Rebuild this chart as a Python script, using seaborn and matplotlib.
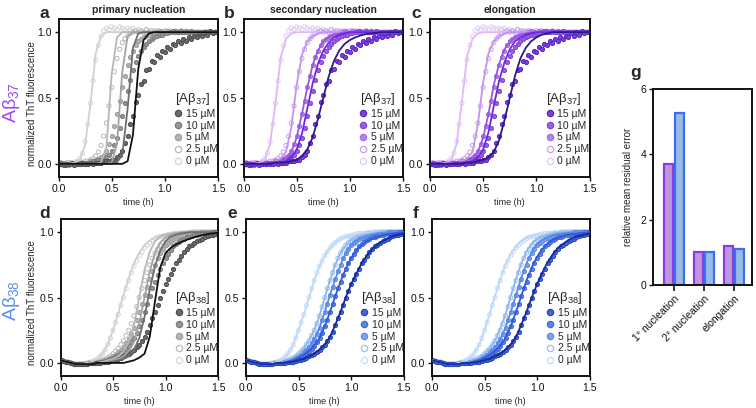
import numpy as np
import pandas as pd
import matplotlib
matplotlib.use("Agg")
import matplotlib.pyplot as plt
import seaborn as sns
from matplotlib.lines import Line2D

# ---------------- data ----------------
T_DATA = np.round(np.arange(61) * 0.025, 3)   # measured time points (h)
T_FIT = np.round(np.arange(31) * 0.05, 3)     # fit evaluation times (h)

CONC_LABELS = ["15 µM", "10 µM", "5 µM", "2.5 µM", "0 µM"]

# Abeta42 aggregation with Abeta37 (normalized ThT)
ab37_15 = [0.00, 0.00, -0.01, 0.00, 0.00, 0.01, -0.01, 0.00, 0.00, 0.01,
           0.00, 0.00, 0.01, 0.00, 0.01, 0.01, 0.01, 0.02, 0.02, 0.02,
           0.03, 0.03, 0.05, 0.07, 0.10, 0.16, 0.21, 0.30, 0.36, 0.47,
           0.52, 0.61, 0.63, 0.71, 0.72, 0.78, 0.77, 0.83, 0.81, 0.86,
           0.85, 0.89, 0.87, 0.91, 0.90, 0.93, 0.92, 0.95, 0.93, 0.96,
           0.95, 0.97, 0.96, 0.99, 0.97, 1.00, 0.98, 1.01, 0.99, 1.00,
           1.00]
ab37_10 = [0.00, 0.01, 0.00, -0.01, 0.00, 0.01, 0.00, 0.00, 0.01, 0.00,
           0.01, 0.01, 0.01, 0.02, 0.02, 0.03, 0.03, 0.04, 0.05, 0.07,
           0.10, 0.14, 0.20, 0.27, 0.36, 0.46, 0.55, 0.64, 0.71, 0.77,
           0.82, 0.86, 0.89, 0.91, 0.93, 0.95, 0.96, 0.97, 0.98, 0.98,
           0.99, 0.99, 1.00, 1.01, 1.00, 1.00, 1.01, 1.00, 1.00, 1.00,
           1.01, 1.00, 1.00, 1.00, 1.00, 1.00, 1.00, 1.00, 1.00, 1.00,
           1.00]
ab37_5 = [0.00, 0.00, 0.01, 0.00, -0.01, 0.00, 0.01, 0.00, 0.00, 0.01,
          0.01, 0.01, 0.02, 0.02, 0.03, 0.04, 0.05, 0.07, 0.10, 0.15,
          0.21, 0.29, 0.38, 0.48, 0.58, 0.67, 0.75, 0.81, 0.86, 0.90,
          0.93, 0.95, 0.96, 0.97, 0.98, 0.99, 0.99, 1.00, 1.01, 1.00,
          0.99, 1.01, 1.00, 1.00, 1.01, 1.00, 1.00, 1.00, 1.01, 1.00,
          1.00, 1.00, 1.00, 1.00, 1.00, 1.00, 1.00, 1.00, 1.00, 1.00,
          1.00]
ab37_25 = [0.00, 0.01, -0.01, 0.00, 0.01, 0.00, 0.00, 0.01, 0.00, 0.01,
           0.02, 0.02, 0.03, 0.04, 0.06, 0.09, 0.14, 0.21, 0.31, 0.44,
           0.58, 0.70, 0.80, 0.87, 0.92, 0.95, 0.97, 0.99, 1.00, 1.01,
           1.00, 1.01, 1.00, 1.02, 1.00, 1.01, 1.00, 1.01, 1.00, 1.00,
           1.01, 1.00, 1.01, 1.00, 1.00, 1.00, 1.01, 1.00, 1.00, 1.00,
           1.00, 1.00, 1.00, 1.00, 1.00, 1.00, 1.00, 1.00, 1.00, 1.00,
           1.00]
ab37_0 = [0.00, -0.01, 0.00, 0.01, 0.00, 0.01, 0.00, 0.02, 0.04, 0.08,
          0.17, 0.30, 0.46, 0.63, 0.79, 0.90, 0.97, 1.01, 1.03, 1.02,
          1.04, 1.03, 1.02, 1.04, 1.03, 1.02, 1.03, 1.02, 1.03, 1.01,
          1.02, 1.01, 1.00, 1.02, 1.01, 1.00, 1.01, 1.00, 1.01, 1.00,
          1.00, 1.01, 1.00, 1.00, 1.01, 1.00, 1.00, 1.00, 1.01, 1.00,
          1.00, 1.00, 1.00, 1.00, 1.00, 1.00, 1.00, 1.00, 1.00, 1.00,
          1.00]

# Abeta42 aggregation with Abeta38 (normalized ThT)
ab38_15 = [0.02, 0.015, 0.01, 0.005, 0.0, -0.005, -0.01, -0.01, -0.01, -0.01,
           -0.005, 0.0, 0.0, 0.0, 0.0, 0.0, 0.005, 0.005, 0.01, 0.015,
           0.02, 0.025, 0.03, 0.04, 0.05, 0.06, 0.07, 0.08, 0.10, 0.12,
           0.14, 0.17, 0.20, 0.24, 0.29, 0.34, 0.39, 0.44, 0.50, 0.55,
           0.60, 0.64, 0.68, 0.72, 0.76, 0.79, 0.82, 0.85, 0.87, 0.89,
           0.90, 0.92, 0.93, 0.94, 0.95, 0.96, 0.97, 0.975, 0.98, 0.985,
           0.99]
ab38_10 = [0.02, 0.015, 0.01, 0.005, 0.0, -0.005, -0.01, -0.01, -0.01, -0.01,
           -0.005, 0.0, 0.0, 0.0, 0.0, 0.005, 0.01, 0.015, 0.02, 0.03,
           0.04, 0.05, 0.06, 0.075, 0.09, 0.11, 0.13, 0.16, 0.19, 0.23,
           0.28, 0.33, 0.39, 0.45, 0.51, 0.57, 0.62, 0.67, 0.72, 0.76,
           0.80, 0.835, 0.865, 0.89, 0.91, 0.925, 0.94, 0.95, 0.96, 0.965,
           0.97, 0.975, 0.98, 0.985, 0.99, 0.99, 0.995, 0.995, 1.0, 1.0,
           1.0]
ab38_5 = [0.02, 0.015, 0.01, 0.005, 0.0, -0.005, -0.01, -0.01, -0.01, -0.01,
          -0.005, 0.0, 0.0, 0.0, 0.005, 0.01, 0.015, 0.02, 0.03, 0.04,
          0.05, 0.06, 0.08, 0.10, 0.12, 0.15, 0.18, 0.22, 0.27, 0.33,
          0.39, 0.45, 0.52, 0.58, 0.64, 0.70, 0.75, 0.80, 0.84, 0.87,
          0.90, 0.92, 0.935, 0.945, 0.955, 0.965, 0.97, 0.975, 0.98, 0.985,
          0.99, 0.99, 0.995, 0.995, 1.0, 1.0, 1.0, 1.0, 1.0, 1.0,
          1.0]
ab38_25 = [0.02, 0.015, 0.01, 0.005, 0.0, -0.005, -0.01, -0.01, -0.01, -0.01,
           -0.005, 0.0, 0.0, 0.005, 0.01, 0.015, 0.02, 0.03, 0.04, 0.05,
           0.07, 0.09, 0.11, 0.14, 0.17, 0.21, 0.25, 0.30, 0.36, 0.43,
           0.50, 0.57, 0.63, 0.69, 0.75, 0.80, 0.84, 0.87, 0.90, 0.92,
           0.94, 0.95, 0.96, 0.97, 0.975, 0.98, 0.985, 0.99, 0.99, 0.995,
           0.995, 1.0, 1.0, 1.0, 1.0, 1.0, 1.0, 1.0, 1.0, 1.0,
           1.0]
ab38_0 = [0.02, 0.015, 0.01, 0.005, 0.0, -0.005, -0.01, -0.01, -0.01, -0.005,
          0.0, 0.005, 0.01, 0.02, 0.03, 0.05, 0.07, 0.10, 0.14, 0.19,
          0.25, 0.31, 0.37, 0.44, 0.50, 0.57, 0.63, 0.69, 0.74, 0.78,
          0.82, 0.85, 0.88, 0.90, 0.92, 0.935, 0.95, 0.96, 0.965, 0.97,
          0.975, 0.98, 0.985, 0.99, 0.99, 0.99, 0.995, 0.995, 0.995, 1.0,
          1.0, 1.0, 1.0, 1.0, 1.0, 1.0, 1.0, 1.0, 1.0, 1.0,
          1.0]

# model fits: primary nucleation (a, d), secondary nucleation (b, e), elongation (c, f)
fit_a_15 = [0.0, 0.0, 0.0, 0.0, 0.0, 0.0, 0.0, 0.0, 0.0, 0.0,
            0.0, 0.0, 0.0, 0.02, 0.22, 0.72, 0.94, 0.99, 1.0, 1.0,
            1.0, 1.0, 1.0, 1.0, 1.0, 1.0, 1.0, 1.0, 1.0, 1.0, 1.0]
fit_a_10 = [0.0, 0.0, 0.0, 0.0, 0.0, 0.0, 0.0, 0.0, 0.0, 0.0,
            0.0, 0.01, 0.07, 0.42, 0.88, 0.99, 1.0, 1.0, 1.0, 1.0,
            1.0, 1.0, 1.0, 1.0, 1.0, 1.0, 1.0, 1.0, 1.0, 1.0, 1.0]
fit_a_5 = [0.0, 0.0, 0.0, 0.0, 0.0, 0.0, 0.0, 0.0, 0.0, 0.0,
           0.01, 0.15, 0.70, 0.97, 1.0, 1.0, 1.0, 1.0, 1.0, 1.0,
           1.0, 1.0, 1.0, 1.0, 1.0, 1.0, 1.0, 1.0, 1.0, 1.0, 1.0]
fit_a_25 = [0.0, 0.0, 0.0, 0.0, 0.0, 0.0, 0.0, 0.0, 0.01, 0.12,
            0.68, 0.96, 1.0, 1.0, 1.0, 1.0, 1.0, 1.0, 1.0, 1.0,
            1.0, 1.0, 1.0, 1.0, 1.0, 1.0, 1.0, 1.0, 1.0, 1.0, 1.0]
fit_a_0 = [0.0, 0.0, 0.0, 0.01, 0.03, 0.14, 0.45, 0.84, 0.97, 1.0,
           1.0, 1.0, 1.0, 1.0, 1.0, 1.0, 1.0, 1.0, 1.0, 1.0,
           1.0, 1.0, 1.0, 1.0, 1.0, 1.0, 1.0, 1.0, 1.0, 1.0, 1.0]

fit_b_15 = [0.0, 0.0, 0.0, 0.0, 0.0, 0.0, 0.01, 0.01, 0.01, 0.02,
            0.03, 0.06, 0.11, 0.20, 0.34, 0.50, 0.66, 0.78, 0.86, 0.91,
            0.94, 0.96, 0.975, 0.985, 0.99, 0.995, 1.0, 1.0, 1.0, 1.0, 1.0]
fit_b_10 = [0.0, 0.0, 0.0, 0.0, 0.0, 0.01, 0.01, 0.01, 0.02, 0.05,
            0.11, 0.23, 0.42, 0.61, 0.76, 0.86, 0.92, 0.96, 0.98, 0.99,
            1.0, 1.0, 1.0, 1.0, 1.0, 1.0, 1.0, 1.0, 1.0, 1.0, 1.0]
fit_b_5 = [0.0, 0.0, 0.0, 0.0, 0.01, 0.01, 0.01, 0.02, 0.04, 0.09,
           0.20, 0.38, 0.58, 0.75, 0.86, 0.93, 0.96, 0.98, 0.99, 1.0,
           1.0, 1.0, 1.0, 1.0, 1.0, 1.0, 1.0, 1.0, 1.0, 1.0, 1.0]
fit_b_25 = [0.0, 0.0, 0.0, 0.0, 0.01, 0.01, 0.02, 0.04, 0.09, 0.28,
            0.60, 0.83, 0.93, 0.97, 0.99, 1.0, 1.0, 1.0, 1.0, 1.0,
            1.0, 1.0, 1.0, 1.0, 1.0, 1.0, 1.0, 1.0, 1.0, 1.0, 1.0]
fit_b_0 = [0.0, 0.0, 0.0, 0.01, 0.03, 0.15, 0.46, 0.81, 0.95, 0.99,
           1.0, 1.0, 1.0, 1.0, 1.0, 1.0, 1.0, 1.0, 1.0, 1.0,
           1.0, 1.0, 1.0, 1.0, 1.0, 1.0, 1.0, 1.0, 1.0, 1.0, 1.0]

fit_c_15 = [0.0, 0.0, 0.0, 0.0, 0.0, 0.0, 0.0, 0.01, 0.01, 0.02,
            0.03, 0.05, 0.09, 0.18, 0.33, 0.50, 0.67, 0.80, 0.88, 0.93,
            0.96, 0.98, 0.99, 1.0, 1.0, 1.0, 1.0, 1.0, 1.0, 1.0, 1.0]
fit_c_10 = [0.0, 0.0, 0.0, 0.0, 0.0, 0.01, 0.01, 0.01, 0.02, 0.05,
            0.11, 0.24, 0.44, 0.63, 0.77, 0.87, 0.93, 0.96, 0.98, 0.99,
            1.0, 1.0, 1.0, 1.0, 1.0, 1.0, 1.0, 1.0, 1.0, 1.0, 1.0]
fit_c_5 = [0.0, 0.0, 0.0, 0.0, 0.01, 0.01, 0.01, 0.02, 0.04, 0.09,
           0.20, 0.38, 0.60, 0.76, 0.87, 0.93, 0.96, 0.98, 0.99, 1.0,
           1.0, 1.0, 1.0, 1.0, 1.0, 1.0, 1.0, 1.0, 1.0, 1.0, 1.0]
fit_c_25 = [0.0, 0.0, 0.0, 0.0, 0.01, 0.01, 0.02, 0.04, 0.09, 0.30,
            0.62, 0.84, 0.93, 0.97, 0.99, 1.0, 1.0, 1.0, 1.0, 1.0,
            1.0, 1.0, 1.0, 1.0, 1.0, 1.0, 1.0, 1.0, 1.0, 1.0, 1.0]
fit_c_0 = [0.0, 0.0, 0.0, 0.01, 0.03, 0.15, 0.47, 0.82, 0.95, 0.99,
           1.0, 1.0, 1.0, 1.0, 1.0, 1.0, 1.0, 1.0, 1.0, 1.0,
           1.0, 1.0, 1.0, 1.0, 1.0, 1.0, 1.0, 1.0, 1.0, 1.0, 1.0]

fit_d_15 = [0.02, 0.01, 0.0, -0.01, -0.01, -0.01, -0.01, 0.0, 0.0, 0.0,
            0.0, 0.0, 0.0, 0.01, 0.02, 0.04, 0.07, 0.20, 0.47, 0.73,
            0.84, 0.88, 0.905, 0.925, 0.94, 0.955, 0.967, 0.977, 0.985, 0.99, 0.995]
fit_d_10 = [0.02, 0.01, 0.0, -0.01, -0.01, -0.01, 0.0, 0.0, 0.0, 0.0,
            0.01, 0.02, 0.03, 0.05, 0.10, 0.19, 0.35, 0.56, 0.74, 0.86,
            0.93, 0.965, 0.98, 0.99, 0.995, 1.0, 1.0, 1.0, 1.0, 1.0, 1.0]
fit_d_5 = [0.02, 0.01, 0.0, -0.01, -0.01, -0.01, 0.0, 0.0, 0.0, 0.01,
           0.02, 0.03, 0.05, 0.09, 0.16, 0.30, 0.50, 0.70, 0.84, 0.92,
           0.96, 0.98, 0.99, 0.995, 1.0, 1.0, 1.0, 1.0, 1.0, 1.0, 1.0]
fit_d_25 = [0.02, 0.01, 0.0, -0.01, -0.01, -0.01, 0.0, 0.0, 0.01, 0.02,
            0.03, 0.05, 0.09, 0.16, 0.29, 0.50, 0.71, 0.85, 0.93, 0.965,
            0.98, 0.99, 0.995, 1.0, 1.0, 1.0, 1.0, 1.0, 1.0, 1.0, 1.0]
fit_d_0 = [0.02, 0.01, 0.0, -0.01, -0.01, 0.0, 0.01, 0.03, 0.07, 0.14,
           0.25, 0.38, 0.52, 0.65, 0.76, 0.84, 0.90, 0.935, 0.96, 0.975,
           0.985, 0.99, 0.995, 1.0, 1.0, 1.0, 1.0, 1.0, 1.0, 1.0, 1.0]

fit_e_15 = [0.02, 0.01, 0.0, -0.01, -0.01, -0.01, 0.0, 0.0, 0.005, 0.01,
            0.02, 0.03, 0.05, 0.07, 0.10, 0.14, 0.20, 0.29, 0.39, 0.50,
            0.60, 0.68, 0.76, 0.82, 0.87, 0.90, 0.93, 0.95, 0.97, 0.98, 0.99]
fit_e_10 = [0.02, 0.01, 0.0, -0.01, -0.01, -0.01, 0.0, 0.0, 0.01, 0.02,
            0.04, 0.06, 0.09, 0.13, 0.19, 0.28, 0.39, 0.51, 0.62, 0.72,
            0.80, 0.86, 0.90, 0.93, 0.95, 0.965, 0.975, 0.985, 0.99, 0.995, 1.0]
fit_e_5 = [0.02, 0.01, 0.0, -0.01, -0.01, -0.01, 0.0, 0.0, 0.015, 0.03,
           0.05, 0.08, 0.12, 0.18, 0.27, 0.39, 0.52, 0.64, 0.75, 0.84,
           0.90, 0.935, 0.955, 0.97, 0.98, 0.99, 0.995, 1.0, 1.0, 1.0, 1.0]
fit_e_25 = [0.02, 0.01, 0.0, -0.01, -0.01, -0.01, 0.0, 0.01, 0.02, 0.04,
            0.07, 0.11, 0.17, 0.25, 0.36, 0.50, 0.63, 0.75, 0.84, 0.90,
            0.94, 0.96, 0.975, 0.985, 0.99, 0.995, 1.0, 1.0, 1.0, 1.0, 1.0]
fit_e_0 = [0.02, 0.01, 0.0, -0.01, -0.01, 0.0, 0.01, 0.03, 0.07, 0.14,
           0.25, 0.37, 0.50, 0.63, 0.74, 0.82, 0.88, 0.92, 0.95, 0.965,
           0.975, 0.985, 0.99, 0.995, 1.0, 1.0, 1.0, 1.0, 1.0, 1.0, 1.0]

fit_f_15 = [0.02, 0.01, 0.0, -0.01, -0.01, -0.01, 0.0, 0.0, 0.005, 0.01,
            0.02, 0.03, 0.05, 0.07, 0.10, 0.14, 0.20, 0.29, 0.39, 0.50,
            0.60, 0.69, 0.77, 0.83, 0.88, 0.91, 0.94, 0.96, 0.97, 0.98, 0.99]
fit_f_10 = [0.02, 0.01, 0.0, -0.01, -0.01, -0.01, 0.0, 0.0, 0.01, 0.02,
            0.04, 0.06, 0.09, 0.13, 0.19, 0.28, 0.39, 0.51, 0.63, 0.73,
            0.81, 0.87, 0.91, 0.94, 0.955, 0.97, 0.98, 0.985, 0.99, 0.995, 1.0]
fit_f_5 = [0.02, 0.01, 0.0, -0.01, -0.01, -0.01, 0.0, 0.0, 0.015, 0.03,
           0.05, 0.08, 0.12, 0.18, 0.27, 0.39, 0.52, 0.65, 0.76, 0.85,
           0.91, 0.94, 0.96, 0.975, 0.985, 0.99, 0.995, 1.0, 1.0, 1.0, 1.0]
fit_f_25 = [0.02, 0.01, 0.0, -0.01, -0.01, -0.01, 0.0, 0.01, 0.02, 0.04,
            0.07, 0.11, 0.17, 0.26, 0.37, 0.51, 0.64, 0.76, 0.85, 0.91,
            0.945, 0.965, 0.98, 0.99, 0.995, 1.0, 1.0, 1.0, 1.0, 1.0, 1.0]
fit_f_0 = [0.02, 0.01, 0.0, -0.01, -0.01, 0.0, 0.01, 0.03, 0.07, 0.14,
           0.25, 0.38, 0.51, 0.64, 0.75, 0.83, 0.89, 0.93, 0.955, 0.97,
           0.98, 0.985, 0.99, 0.995, 1.0, 1.0, 1.0, 1.0, 1.0, 1.0, 1.0]

# panel g
MODELS = ["1° nucleation", "2° nucleation", "elongation"]
err_ab37 = [3.7, 1.0, 1.2]
err_ab38 = [5.25, 1.0, 1.1]

TITLES = ["primary nucleation", "secondary nucleation", "elongation"]
X_TICKS = [0.0, 0.5, 1.0, 1.5]
Y_TICKS = [0.0, 0.5, 1.0]
G_TICKS = [0, 2, 4, 6]

# ---------------- style ----------------
GRAY = dict(face=["#6b6b6b", "#959595", "#b4b4b4", "none", "none"],
            edge=["#4d4d4d", "#7a7a7a", "#9c9c9c", "#b9b9b9", "#d6d6d6"],
            line=["#111111", "#6e6e6e", "#a3a3a3", "#b8b8b8", "#d0d0d0"])
PURP = dict(face=["#7d43d9", "#9d5fe3", "#b686ea", "none", "none"],
            edge=["#5b22c4", "#8140dc", "#a06be4", "#c9a0f0", "#e3c9f6"],
            line=["#2b1a86", "#6a2bd6", "#9b55e5", "#c393ee", "#deb9f5"])
BLUE = dict(face=["#4468d8", "#5f86e5", "#7fa4ee", "none", "none"],
            edge=["#2446c2", "#3f6adc", "#5e8be6", "#99c0f3", "#c5dcf8"],
            line=["#1b2a95", "#3558d4", "#5a88e6", "#8cb5f1", "#bcd7f7"])

sns.set_theme(style="white")
plt.rcParams["font.family"] = ["Liberation Sans", "DejaVu Sans"]
plt.rcParams["mathtext.fontset"] = "custom"
plt.rcParams["mathtext.rm"] = "Liberation Sans"
plt.rcParams["mathtext.it"] = "Liberation Sans:italic"
plt.rcParams["mathtext.default"] = "regular"

W, H = 756, 408
fig = plt.figure(figsize=(W / 100, H / 100), dpi=100)


def add_ax(x0, y0, w, h):
    return fig.add_axes([x0 / W, 1 - (y0 + h) / H, w / W, h / H])


def style_axes(ax):
    for s in ax.spines.values():
        s.set_visible(True)
        s.set_linewidth(1.4)
        s.set_color("#111111")
    ax.tick_params(direction="out", length=3, width=1, labelsize=7.5, pad=2,
                   colors="#111111", bottom=True, left=True)


def draw_kinetics(ax, data, fits, pal, sub, title=None):
    # data (lightest drawn first)
    for k in range(4, -1, -1):
        sns.scatterplot(x=T_DATA, y=data[k], ax=ax, s=9, color=pal["edge"][k],
                        facecolor=pal["face"][k], edgecolor=pal["edge"][k],
                        linewidth=0.7, zorder=2, legend=False)
    for k in range(4, -1, -1):
        sns.lineplot(x=T_FIT, y=fits[k], ax=ax, color=pal["line"][k],
                     linewidth=1.3, zorder=3, legend=False)
    ax.set_xlim(0, 1.5)
    ax.set_ylim(-0.1, 1.1)
    ax.set_xticks(X_TICKS)
    ax.set_xticklabels([f"{v:.1f}" for v in X_TICKS])
    ax.set_yticks(Y_TICKS)
    ax.set_yticklabels([f"{v:.1f}" for v in Y_TICKS])
    ax.set_xlabel("time (h)", fontsize=6.5, labelpad=3)
    ax.set_ylabel("")
    style_axes(ax)
    if title:
        ax.set_title(title, fontsize=7.5, fontweight="bold", pad=4)
    handles = [Line2D([0], [0], marker="o", linestyle="", markersize=4.5,
                      markerfacecolor=pal["face"][k], markeredgecolor=pal["edge"][k],
                      markeredgewidth=0.9) for k in range(5)]
    leg = ax.legend(handles, CONC_LABELS, title="[Aβ$_{" + sub + "}$]",
                    loc="lower left", bbox_to_anchor=(0.715, 0.055),
                    frameon=False, fontsize=7.5, title_fontsize=9.5,
                    handlelength=0.7, handletextpad=0.35, labelspacing=0.18,
                    borderpad=0.2, borderaxespad=0.0)
    leg._legend_box.align = "left"


data37 = [ab37_15, ab37_10, ab37_5, ab37_25, ab37_0]
data38 = [ab38_15, ab38_10, ab38_5, ab38_25, ab38_0]
fits_top = [[fit_a_15, fit_a_10, fit_a_5, fit_a_25, fit_a_0],
            [fit_b_15, fit_b_10, fit_b_5, fit_b_25, fit_b_0],
            [fit_c_15, fit_c_10, fit_c_5, fit_c_25, fit_c_0]]
fits_bot = [[fit_d_15, fit_d_10, fit_d_5, fit_d_25, fit_d_0],
            [fit_e_15, fit_e_10, fit_e_5, fit_e_25, fit_e_0],
            [fit_f_15, fit_f_10, fit_f_5, fit_f_25, fit_f_0]]

top_x = [58.5, 243.5, 430]
bot_x = [60.5, 246, 432]
pals_top = [GRAY, PURP, PURP]
pals_bot = [GRAY, BLUE, BLUE]

for i in range(3):
    ax = add_ax(top_x[i], 19, 159.5, 158)
    draw_kinetics(ax, data37, fits_top[i], pals_top[i], "37", title=TITLES[i])
    ax = add_ax(bot_x[i], 219, 157.5, 157)
    draw_kinetics(ax, data38, fits_bot[i], pals_bot[i], "38")

# panel letters
for lab, (x, y) in zip("abcdef", [(44, 13), (229, 13), (416, 13),
                                   (45, 213), (232, 213), (416, 213)]):
    fig.text(x / W, 1 - y / H, lab, fontsize=12.5, fontweight="bold",
             ha="center", va="center")

# row labels and y labels
fig.text(12 / W, 1 - 103 / H, "Aβ$_{37}$", rotation=90, color="#9a4cf3",
         fontsize=14, ha="center", va="center")
fig.text(12 / W, 1 - 300 / H, "Aβ$_{38}$", rotation=90, color="#5b8ef2",
         fontsize=14, ha="center", va="center")
fig.text(32 / W, 1 - 104 / H, "normalized ThT fluorescence", rotation=90,
         fontsize=7, ha="center", va="center")
fig.text(32 / W, 1 - 303 / H, "normalized ThT fluorescence", rotation=90,
         fontsize=7, ha="center", va="center")

# ---------------- panel g ----------------
axg = add_ax(653, 89, 99, 196)
df = pd.DataFrame({
    "model": MODELS * 2,
    "peptide": ["Aβ37"] * 3 + ["Aβ38"] * 3,
    "error": err_ab37 + err_ab38,
})
sns.barplot(data=df, x="model", y="error", hue="peptide",
            palette=["#c28be9", "#8db9f4"], width=0.76, gap=0.22,
            linewidth=1.6, ax=axg, legend=False, errorbar=None)
edge_cols = ["#8a3de0", "#3a6ff0"]
for cont, ec in zip(axg.containers, edge_cols):
    for p in cont.patches:
        p.set_edgecolor(ec)
axg.set_xlim(-0.69, 2.59)
axg.set_ylim(0, 6)
axg.set_yticks(G_TICKS)
axg.set_yticklabels([str(v) for v in G_TICKS])
style_axes(axg)
axg.tick_params(axis="x", length=4, width=1.2)
axg.set_xticks(range(3))
axg.set_xticklabels(MODELS, rotation=45, ha="right", rotation_mode="anchor",
                    fontsize=7.5)
axg.set_xlabel("")
axg.set_ylabel("relative mean residual error", fontsize=7, labelpad=5)
fig.text(636 / W, 1 - 72 / H, "g", fontsize=12.5, fontweight="bold",
         ha="center", va="center")

fig.savefig("out.png", dpi=100)
